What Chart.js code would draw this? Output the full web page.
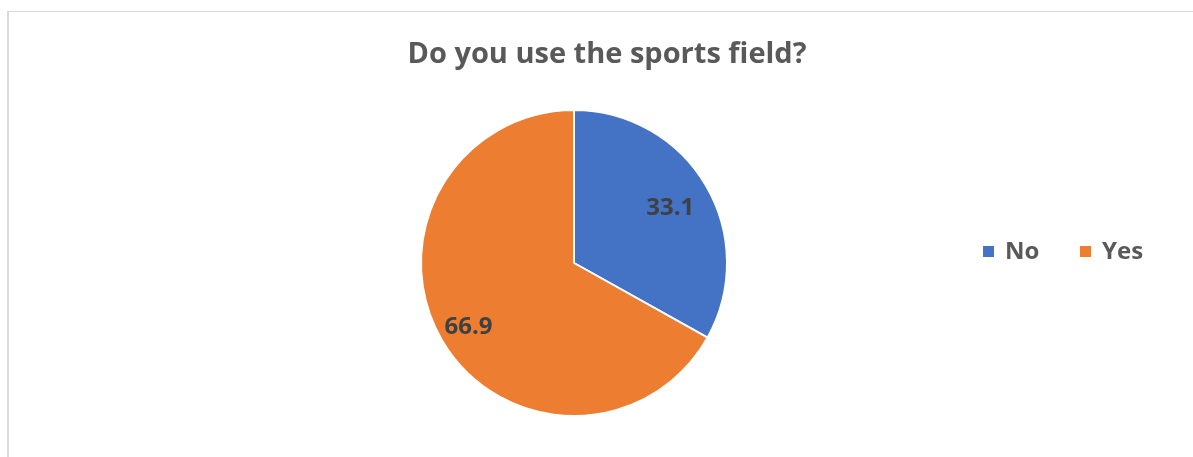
<!DOCTYPE html>
<html>
<head>
<meta charset="utf-8">
<script src="https://cdn.jsdelivr.net/npm/chart.js@4.4.1/dist/chart.umd.min.js"></script>
<style>
  html, body { margin: 0; padding: 0; background: #fff; overflow: hidden; }
  #frame {
    position: absolute; left: 7px; top: 11px; width: 1400px; height: 600px;
    border-left: 2px solid #d9d9d9; border-top: 1px solid #d9d9d9;
  }
  #wrap { position: absolute; left: 0; top: 0; width: 1193px; height: 457px; }
</style>
</head>
<body>
<div id="frame"></div>
<div id="wrap"><canvas id="chart"></canvas></div>
<script>
const categories = ['No', 'Yes'];
const values = [33.1, 66.9];
const colors = ['#4472C4', '#ED7D31'];
const chartTitle = 'Do you use the sports field?';

const FONT = '"Open Sans", "DejaVu Sans", sans-serif';

// title sits centred over the whole frame, not over the pie
const titlePlugin = {
  id: 'frameTitle',
  afterDraw(chart) {
    const ctx = chart.ctx;
    ctx.save();
    ctx.font = 'bold 29px ' + FONT;
    ctx.fillStyle = '#595959';
    ctx.textAlign = 'center';
    ctx.textBaseline = 'middle';
    ctx.fillText(chartTitle, 607, 55);
    ctx.restore();
  }
};

// data labels, placed along each slice's mid angle
const labelPlugin = {
  id: 'sliceLabels',
  afterDatasetsDraw(chart) {
    const ctx = chart.ctx;
    const meta = chart.getDatasetMeta(0);
    const factors = [0.73, 0.8];
    ctx.save();
    ctx.font = 'bold 24px ' + FONT;
    ctx.fillStyle = '#404040';
    ctx.textAlign = 'center';
    ctx.textBaseline = 'middle';
    meta.data.forEach((arc, i) => {
      const p = arc.getProps(['x', 'y', 'startAngle', 'endAngle', 'outerRadius'], true);
      const mid = (p.startAngle + p.endAngle) / 2;
      const r = p.outerRadius * factors[i];
      ctx.fillText(values[i].toFixed(1), p.x + Math.cos(mid) * r, p.y + Math.sin(mid) * r + 2);
    });
    ctx.restore();
  }
};

// legend to the right, items side by side
const legendPlugin = {
  id: 'sideLegend',
  afterDraw(chart) {
    const ctx = chart.ctx;
    const y = 252;
    let x = 983;
    ctx.save();
    ctx.font = 'bold 24px ' + FONT;
    ctx.textBaseline = 'middle';
    categories.forEach((c, i) => {
      ctx.fillStyle = colors[i];
      ctx.fillRect(x, y - 6, 11, 11);
      ctx.fillStyle = '#595959';
      ctx.fillText(c, x + 22, y);
      x += 97;
    });
    ctx.restore();
  }
};

new Chart(document.getElementById('chart'), {
  type: 'pie',
  data: {
    labels: categories,
    datasets: [{
      data: values,
      backgroundColor: colors,
      borderColor: '#ffffff',
      borderWidth: 2
    }]
  },
  options: {
    responsive: true,
    maintainAspectRatio: false,
    animation: false,
    radius: 153,
    layout: { padding: { left: 0, right: 45, top: 103, bottom: 34 } },
    plugins: {
      legend: { display: false },
      tooltip: { enabled: false },
      title: { display: false }
    }
  },
  plugins: [labelPlugin, legendPlugin, titlePlugin]
});
</script>
</body>
</html>
